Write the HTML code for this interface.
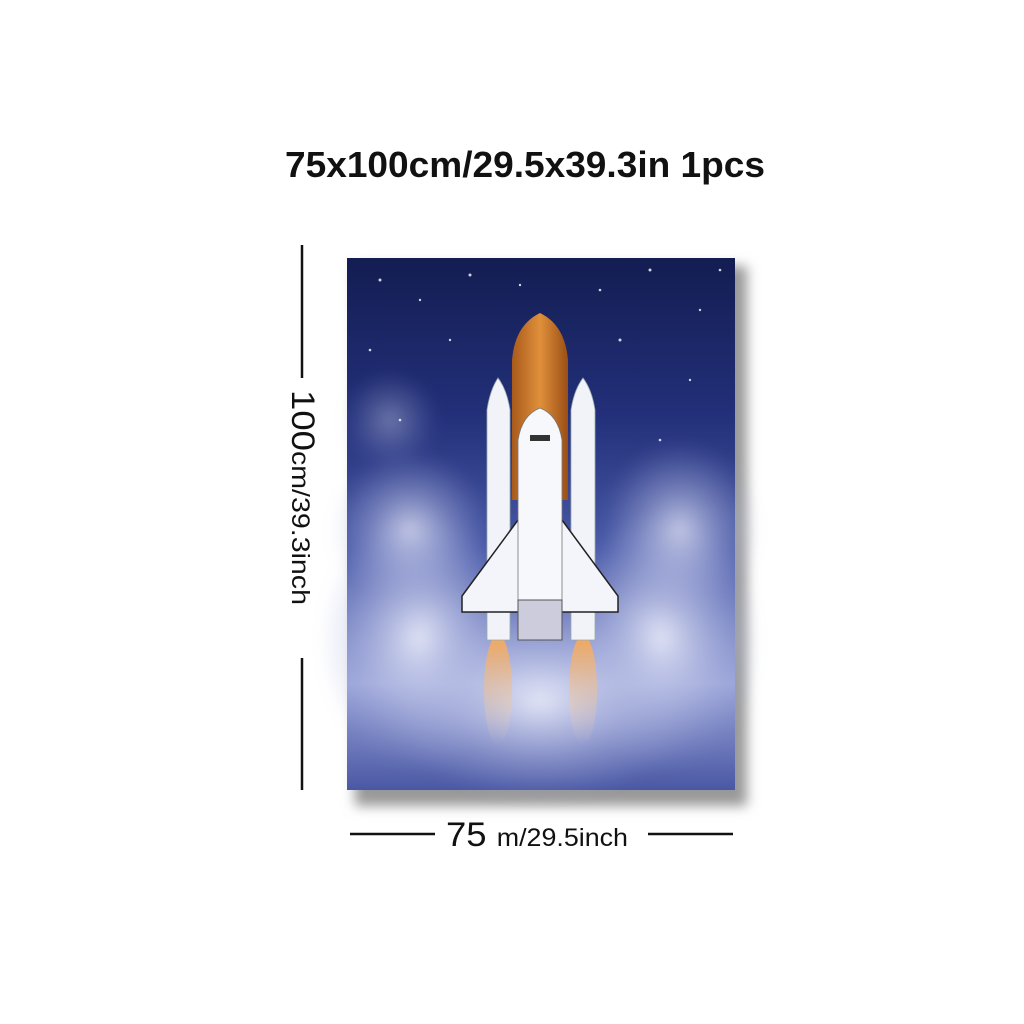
<!DOCTYPE html>
<html><head><meta charset="utf-8"><style>
html,body{margin:0;padding:0;background:#fff;width:1024px;height:1024px;overflow:hidden}
svg{display:block}
text{font-family:"Liberation Sans",sans-serif;fill:#111}
</style></head><body>
<svg width="1024" height="1024" viewBox="0 0 1024 1024">
<defs>
<linearGradient id="sky" x1="0" y1="0" x2="0" y2="1">
<stop offset="0" stop-color="#131d52"/><stop offset="0.3" stop-color="#23307a"/>
<stop offset="0.55" stop-color="#4a5aa8"/><stop offset="0.8" stop-color="#9aa4d8"/><stop offset="1" stop-color="#4a58a4"/>
</linearGradient>
<radialGradient id="cloud" cx="0.5" cy="0.5" r="0.5">
<stop offset="0" stop-color="#e8eaf8" stop-opacity="0.95"/><stop offset="1" stop-color="#9aa4d8" stop-opacity="0"/>
</radialGradient>
<linearGradient id="tank" x1="0" x2="1"><stop offset="0" stop-color="#a85a1c"/><stop offset="0.5" stop-color="#e0903a"/><stop offset="1" stop-color="#9a4e16"/></linearGradient>
<linearGradient id="flame" x1="0" y1="0" x2="0" y2="1"><stop offset="0" stop-color="#f3a75a"/><stop offset="1" stop-color="#f6d8b8" stop-opacity="0"/></linearGradient>
<filter id="blur"><feGaussianBlur stdDeviation="6"/></filter>
</defs>
<text x="525" y="177" font-size="36" font-weight="bold" text-anchor="middle" textLength="480" lengthAdjust="spacingAndGlyphs">75x100cm/29.5x39.3in 1pcs</text>
<rect x="355" y="266" width="392" height="540" fill="#999" filter="url(#blur)"/>
<g>
<rect x="347" y="258" width="388" height="532" fill="url(#sky)"/>
<g filter="url(#blur)">
<ellipse cx="420" cy="640" rx="100" ry="130" fill="url(#cloud)"/>
<ellipse cx="660" cy="640" rx="100" ry="130" fill="url(#cloud)"/>
<ellipse cx="540" cy="700" rx="160" ry="100" fill="url(#cloud)"/>
<ellipse cx="410" cy="530" rx="80" ry="80" fill="url(#cloud)" opacity="0.8"/>
<ellipse cx="680" cy="530" rx="80" ry="90" fill="url(#cloud)" opacity="0.8"/>
<ellipse cx="390" cy="420" rx="50" ry="50" fill="url(#cloud)" opacity="0.4"/>
</g>
<g fill="#fff" opacity="0.8">
<circle cx="380" cy="280" r="1.5"/><circle cx="420" cy="300" r="1.2"/><circle cx="470" cy="275" r="1.5"/><circle cx="600" cy="290" r="1.3"/><circle cx="650" cy="270" r="1.5"/><circle cx="700" cy="310" r="1.2"/><circle cx="370" cy="350" r="1.3"/><circle cx="450" cy="340" r="1.2"/><circle cx="620" cy="340" r="1.5"/><circle cx="690" cy="380" r="1.2"/><circle cx="400" cy="420" r="1.3"/><circle cx="660" cy="440" r="1.3"/><circle cx="720" cy="270" r="1.3"/><circle cx="520" cy="285" r="1.2"/>
</g>
<g>
<ellipse cx="498" cy="690" rx="14" ry="55" fill="url(#flame)"/>
<ellipse cx="583" cy="690" rx="14" ry="55" fill="url(#flame)"/>
</g>
<path d="M512 500 L512 360 Q515 325 540 313 Q565 325 568 360 L568 500 Z" fill="url(#tank)"/>
<path d="M487 640 L487 410 Q490 390 498 378 Q507 390 510 410 L510 640 Z" fill="#f2f3f8" stroke="#9aa" stroke-width="0.8"/>
<path d="M571 640 L571 410 Q574 390 583 378 Q592 390 595 410 L595 640 Z" fill="#f2f3f8" stroke="#9aa" stroke-width="0.8"/>
<path d="M518 520 L462 596 L462 612 L618 612 L618 596 L562 520 Z" fill="#f4f5fa" stroke="#222" stroke-width="1.5"/>
<path d="M518 640 L518 440 Q522 415 540 408 Q558 415 562 440 L562 640 Z" fill="#f7f8fc" stroke="#777" stroke-width="0.8"/>
<rect x="530" y="435" width="20" height="6" fill="#333"/>
<rect x="518" y="600" width="44" height="40" fill="#ccd" stroke="#555"/>
</g>
<g stroke="#111" stroke-width="2.5">
<line x1="302" y1="245" x2="302" y2="378"/><line x1="302" y1="658" x2="302" y2="790"/>
</g>
<text transform="translate(292,390) rotate(90)" font-size="32" textLength="215" lengthAdjust="spacingAndGlyphs">100<tspan font-size="25">cm/39.3inch</tspan></text>
<g stroke="#111" stroke-width="2.5">
<line x1="350" y1="834" x2="435" y2="834"/><line x1="648" y1="834" x2="733" y2="834"/>
</g>
<text x="446" y="846" font-size="34" textLength="182" lengthAdjust="spacingAndGlyphs">75 <tspan font-size="25">m/29.5inch</tspan></text>
</svg>
</body></html>
